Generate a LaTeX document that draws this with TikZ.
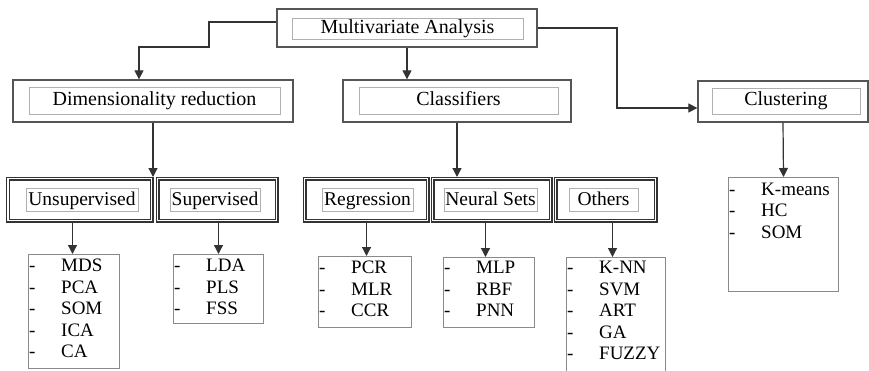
\documentclass[tikz,border=0pt]{standalone}
\usepackage{fontspec}
\setmainfont{Liberation Serif}
\usetikzlibrary{arrows.meta}

\definecolor{linegray}{HTML}{333333}
\definecolor{boxgray}{HTML}{555555}
\definecolor{innergray}{HTML}{B0B0B0}
\definecolor{leafgray}{HTML}{8A8A8A}

\tikzset{
  outerbox/.style={draw=boxgray, line width=1.3pt, inner sep=0pt, fill=white},
  innerbox/.style={draw=innergray, line width=0.9pt, inner sep=0pt,
                   text height=14pt, text depth=5pt,
                   font=\fontsize{20}{24}\selectfont},
  groupbox/.style={draw=linegray, line width=1.1pt, double=white,
                   double distance=1.8pt, inner sep=0pt},
  grouplabel/.style={draw=innergray, line width=0.8pt, inner sep=0pt,
                     minimum height=23pt, text height=14.5pt, text depth=3.5pt,
                     font=\fontsize{19.5}{23}\selectfont},
  leafbox/.style={draw=leafgray, line width=1pt, inner sep=0pt, anchor=north west},
  leaftext/.style={inner sep=0pt, anchor=north west,
                   font=\fontsize{19}{21.5}\selectfont},
  conn/.style={draw=linegray, line width=1.2pt,
               -{Triangle[length=9pt,width=9pt]}}
}

\newcommand{\leaflist}[1]{\begin{tabular}{@{}p{32pt}@{}l@{}}#1\end{tabular}}

\begin{document}
\begin{tikzpicture}[x=1pt,y=-1pt]
\useasboundingbox (0,0) rectangle (869,370);
\begin{scope}
\clip (0,0) rectangle (869,370);

% top level
\node[outerbox, minimum width=260pt, minimum height=38pt] (ma) at (407,28) {};
\node[innerbox, minimum width=231pt, minimum height=21pt] (maT) at (407.5,28.5) {Multivariate Analysis};

% second level
\node[outerbox, minimum width=280pt, minimum height=42pt] (dr) at (153,101) {};
\node[innerbox, minimum width=251pt, minimum height=27pt] (drT) at (154.5,100.5) {Dimensionality reduction};

\node[outerbox, minimum width=228pt, minimum height=42pt] (cl) at (457,101) {};
\node[innerbox, minimum width=199pt, minimum height=27pt] (clT) at (458.5,100.5) {Classifiers};

\node[outerbox, minimum width=170pt, minimum height=41pt] (cu) at (783,101.5) {};
\node[innerbox, minimum width=148pt, minimum height=26pt] (cuT) at (786,101) {Clustering};

% method families (double borders)
\node[groupbox, minimum width=143.5pt, minimum height=42pt] (unsup) at (79.75,199.5) {};
\node[groupbox, minimum width=119pt, minimum height=42pt] (sup) at (217,199.5) {};
\node[groupbox, minimum width=123pt, minimum height=42pt] (reg) at (366,199.5) {};
\node[groupbox, minimum width=118pt, minimum height=42pt] (nsets) at (491.5,199.5) {};
\node[groupbox, minimum width=100pt, minimum height=42pt] (oth) at (605.5,199.5) {};

\node[grouplabel, minimum width=112pt] (unsupT) at (82,199.5) {Unsupervised};
\node[grouplabel, minimum width=90pt] (supT) at (215,199.5) {Supervised};
\node[grouplabel, minimum width=91pt] (regT) at (367.5,199.5) {Regression};
\node[grouplabel, minimum width=93pt] (nsetsT) at (490.5,199.5) {Neural Sets};
\node[grouplabel, minimum width=69pt] (othT) at (603.5,199.5) {Others};

% method lists
\node[leafbox, minimum width=91pt, minimum height=114pt] (mds) at (28,254) {};
\node[leaftext] (mdsT) at (29,256.5) {\leaflist{-&MDS\\-&PCA\\-&SOM\\-&ICA\\-&CA}};

\node[leafbox, minimum width=90pt, minimum height=69pt] (lda) at (173,254) {};
\node[leaftext] (ldaT) at (174,256.5) {\leaflist{-&LDA\\-&PLS\\-&FSS}};

\node[leafbox, minimum width=93pt, minimum height=71pt] (pcr) at (318,256) {};
\node[leaftext] (pcrT) at (319,258.5) {\leaflist{-&PCR\\-&MLR\\-&CCR}};

\node[leafbox, minimum width=91pt, minimum height=70pt] (mlp) at (443,257) {};
\node[leaftext] (mlpT) at (444,258.5) {\leaflist{-&MLP\\-&RBF\\-&PNN}};

\node[leafbox, minimum width=99pt, minimum height=125pt] (knn) at (566,257) {};
\node[leaftext] (knnT) at (567,258.5) {\leaflist{-&K-NN\\-&SVM\\-&ART\\-&GA\\-&FUZZY}};

\node[leafbox, minimum width=110pt, minimum height=114pt] (km) at (728,177) {};
\node[leaftext] (kmT) at (729,180) {\leaflist{-&K-means\\-&HC\\-&SOM}};

% helper coordinates for connector routing
\coordinate (bendL) at (209,47);
\coordinate (bendR) at (617,108);
\coordinate (grptop) at (0,177);
\coordinate (grpbot) at (0,222);

% connectors from the top box
\draw[conn] ([yshift=6pt]ma.west) -| (bendL) -| ([xshift=-14pt]dr.north);
\draw[conn] (ma.south) -- (ma.south |- cl.north);
\draw[conn] (ma.east) -| (bendR) -- (bendR -| cu.west);

% connectors to the method families
\draw[conn] (dr.south) -- (dr.south |- grptop);
\draw[conn] (cl.south) -- (cl.south |- grptop);
\draw[conn] (cu.south) -- (km.north);

% connectors to the method lists
\draw[conn] ([xshift=-1.5pt]mds.north |- grpbot) -- ([xshift=-1.5pt]mds.north);
\draw[conn] (lda.north |- grpbot) -- (lda.north);
\draw[conn] ([xshift=1.5pt]pcr.north |- grpbot) -- ([xshift=1.5pt]pcr.north);
\draw[conn] ([xshift=-3.5pt]mlp.north |- grpbot) -- ([xshift=-3.5pt]mlp.north);
\draw[conn] ([xshift=-3.5pt]knn.north |- grpbot) -- ([xshift=-3.5pt]knn.north);

\end{scope}
\end{tikzpicture}
\end{document}
